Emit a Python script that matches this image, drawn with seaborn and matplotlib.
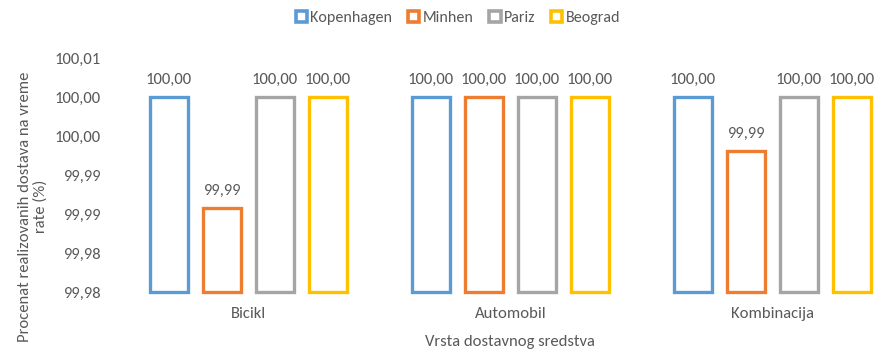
import matplotlib
matplotlib.use("Agg")
import matplotlib.pyplot as plt
import matplotlib.patches as mpatches
from matplotlib import font_manager
import seaborn as sns
import pandas as pd
import numpy as np
from decimal import Decimal, ROUND_HALF_UP

# ---- data ----
categories = ["Bicikl", "Automobil", "Kombinacija"]
cities = ["Kopenhagen", "Minhen", "Pariz", "Beograd"]
kopenhagen = [100.0, 100.0, 100.0]
minhen = [99.9858, 100.0, 99.9931]
pariz = [100.0, 100.0, 100.0]
beograd = [100.0, 100.0, 100.0]
y_ticks = [99.975, 99.980, 99.985, 99.990, 99.995, 100.000, 100.005]

colors = ["#5B9BD5", "#ED7D31", "#A5A5A5", "#FFC000"]
TEXT = "#595959"
BASE = y_ticks[0]


def fmt(v):
    d = Decimal(str(round(v, 6))).quantize(Decimal("0.01"), rounding=ROUND_HALF_UP)
    return f"{d}".replace(".", ",")


series = dict(zip(cities, [kopenhagen, minhen, pariz, beograd]))
rows = []
for city in cities:
    for cat, v in zip(categories, series[city]):
        rows.append({"Vrsta": cat, "Grad": city, "value": v, "delta": v - BASE})
df = pd.DataFrame(rows)

sns.set_style("white")
available = {f.name for f in font_manager.fontManager.ttflist}
family = next(f for f in ["Carlito", "Liberation Sans Narrow", "Lato", "DejaVu Sans"] if f in available)
plt.rcParams["font.family"] = [family, "DejaVu Sans"]

fig = plt.figure(figsize=(8.74, 3.49), dpi=100)
ax = fig.add_axes([117.3 / 874, 1 - 292 / 349, 786 / 874, 234 / 349])

sns.barplot(data=df, x="Vrsta", y="delta", hue="Grad", order=categories,
            hue_order=cities, palette=colors, fill=False, linewidth=2.4,
            width=0.81, gap=0.28, bottom=BASE, legend=False, ax=ax)

for container, city in zip(ax.containers, cities):
    for p in container.patches:
        p.set_clip_on(False)
    ax.bar_label(container, labels=[fmt(v) for v in series[city]], padding=7,
                 color=TEXT, fontsize=12, clip_on=False)

ax.set_xlim(-0.5, 2.5)
ax.set_ylim(y_ticks[0], y_ticks[-1])
ax.set_yticks(y_ticks)
ax.set_yticklabels([fmt(t) for t in y_ticks])
ax.tick_params(axis="y", length=0, pad=12, labelsize=12, labelcolor=TEXT)
ax.tick_params(axis="x", length=0, pad=11, labelsize=12, labelcolor=TEXT)
for s in ax.spines.values():
    s.set_visible(False)

ax.set_xlabel("Vrsta dostavnog sredstva", fontsize=12, color=TEXT, va="top")
ax.xaxis.set_label_coords(0.5, -0.182)
ax.set_ylabel("Procenat realizovanih dostava na vreme\nrate (%)", fontsize=12,
              color=TEXT, linespacing=1.05)
ax.yaxis.set_label_coords(-0.089, 0.365)

handles = [mpatches.Patch(facecolor="white", edgecolor=c, linewidth=2.6, label=n)
           for c, n in zip(colors, cities)]
fig.legend(handles=handles, loc="center", bbox_to_anchor=(0.524, 0.948), ncol=4,
           frameon=False, fontsize=11.5, labelcolor=TEXT, handlelength=0.7,
           handleheight=0.7, handletextpad=0.2, columnspacing=1.0)

fig.savefig("out.png", dpi=100)
